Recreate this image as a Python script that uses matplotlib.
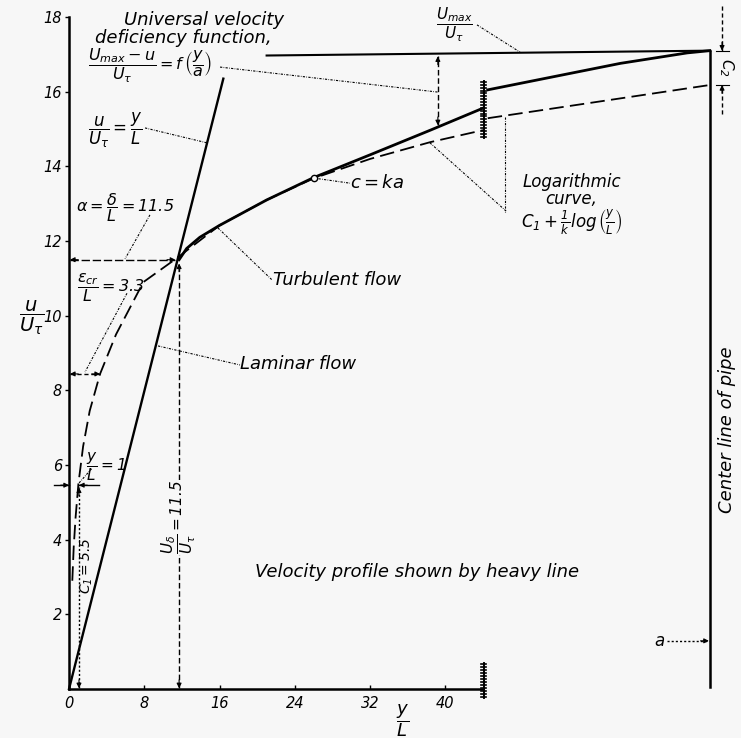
import matplotlib.pyplot as plt
import matplotlib.patheffects as pe

plt.rcParams['font.family'] = 'DejaVu Sans'
plt.rcParams['font.style'] = 'italic'
plt.rcParams['mathtext.fontset'] = 'dejavusans'
plt.rcParams['mathtext.default'] = 'it'

bg = '#f7f7f7'

# --- values: x = y/L, y = u/U_tau ---
lam_x = [0, 16.4]                      # laminar law u/U_tau = y/L
lam_u = [0, 16.35]

turb_x = [11.7, 12.5, 13.9, 16.0, 21.0, 26.0, 32.0, 38.4, 44.0]   # heavy profile
turb_u = [11.5, 11.8, 12.1, 12.42, 13.1, 13.7, 14.31, 14.97, 15.56]

log_x = [0.35, 0.5, 0.7, 1.0, 1.5, 2.2, 3.3, 5.0, 7.9, 11.5, 16.0, 21.0, 26.0, 32.0, 38.4, 44.0]
log_u = [2.9, 3.8, 4.6, 5.5, 6.5, 7.45, 8.44, 9.5, 10.9, 11.55, 12.42, 13.1, 13.68, 14.2, 14.65, 14.97]

# past the break, schematic run out to the pipe centre
core_x = [44.5, 58.6, 65.7, 68.1]
core_u = [16.05, 16.76, 17.04, 17.1]
core_log_x = [44.5, 68.1]
core_log_u = [15.29, 16.18]
umax_x = [21.0, 68.1]
umax_u = [16.97, 17.1]

ck_point = (26.0, 13.7)
xticks = [0, 8, 16, 24, 32, 40]
yticks = [2, 4, 6, 8, 10, 12, 14, 16, 18]

fig = plt.figure(figsize=(7.41, 7.38), dpi=100, facecolor=bg)
ax = fig.add_axes([0, 0, 1, 1], facecolor=bg)
ax.set_xlim(-7.333, 71.413)
ax.set_ylim(-1.3126, 18.457)

# axes as spines through the origin
for s in ['top', 'right']:
    ax.spines[s].set_visible(False)
ax.spines['left'].set_position(('data', 0))
ax.spines['bottom'].set_position(('data', 0))
ax.spines['left'].set_bounds(0, 18)
ax.spines['bottom'].set_bounds(0, 44.0)
ax.spines['left'].set_linewidth(1.8)
ax.spines['bottom'].set_linewidth(1.8)
ax.set_xticks(xticks)
ax.set_yticks(yticks)
ax.tick_params(axis='y', direction='out', length=3, width=1, pad=2, labelsize=10.5)
ax.tick_params(axis='x', direction='in', length=3, width=1, pad=5, labelsize=10.5)
for lab in ax.get_xticklabels() + ax.get_yticklabels():
    lab.set_fontstyle('italic')

# --- curves ---
ax.plot(log_x, log_u, color='k', lw=1.3, ls=(0, (8, 3.5)), zorder=2)
ax.plot(core_log_x, core_log_u, color='k', lw=1.3, ls=(0, (8, 3.5)), zorder=2)
ax.plot(lam_x, lam_u, color='k', lw=1.7, zorder=3)
ax.plot(turb_x, turb_u, color='k', lw=2.0, zorder=3)
ax.plot(core_x, core_u, color='k', lw=2.0, zorder=3)
ax.plot(umax_x, umax_u, color='k', lw=1.5, zorder=3)
ax.plot([68.1, 68.1], [0.05, 17.1], color='k', lw=1.8, zorder=3)
ax.plot(*ck_point, 'o', ms=4.5, mfc=bg, mec='k', mew=1.0, zorder=4)

# break marks
brk = [pe.withTickedStroke(angle=90, spacing=2.0, length=0.9),
       pe.withTickedStroke(angle=-90, spacing=2.0, length=0.6)]
ax.plot([44.1, 44.1], [14.76, 16.3], color='k', lw=1.2, path_effects=brk)
ax.plot([44.1, 44.1], [-0.24, 0.7], color='k', lw=1.2, path_effects=brk)


def head(x, y, dx, dy):
    ax.annotate('', xy=(x, y), xytext=(-dx * 6, -dy * 6), textcoords='offset points',
                arrowprops=dict(arrowstyle='-|>', color='k', lw=0.8, mutation_scale=7,
                                shrinkA=0, shrinkB=0))


def dim(x0, y0, x1, y1, ls=(0, (4, 2)), start=True, end=True):
    ax.plot([x0, x1], [y0, y1], color='k', lw=1.0, ls=ls)
    dx = (x1 > x0) - (x1 < x0)
    dy = (y1 > y0) - (y1 < y0)
    if end:
        head(x1, y1, dx, dy)
    if start:
        head(x0, y0, -dx, -dy)


dim(11.7, 0.02, 11.7, 11.4)                    # U_delta / U_tau
dim(1.06, 0.02, 1.06, 5.4, ls=(0, (1.5, 1.5)))    # C1
dim(0.1, 11.5, 11.3, 11.5, ls=(0, (6, 2)))        # alpha
dim(0.1, 8.44, 3.3, 8.44, ls=(0, (3, 2)))         # eps_cr
dim(-1.6, 5.46, 0, 5.46, ls='-', start=False)     # y/L = 1
dim(3.2, 5.46, 1.06, 5.46, ls='-', start=False)
dim(39.2, 15.1, 39.2, 16.95)                      # deficiency
dim(69.4, 18.3, 69.4, 17.1, ls=(0, (3, 2)), start=False)   # C2
dim(69.4, 15.4, 69.4, 16.18, ls=(0, (3, 2)), start=False)
ax.plot([68.8, 70.1], [17.1, 17.1], color='k', lw=0.8)
ax.plot([68.8, 70.1], [16.18, 16.18], color='k', lw=0.8)
dim(63.6, 1.29, 68.0, 1.29, ls=(0, (1.5, 1.5)), start=False)  # a

# leader lines
leaders = [
    ([16.05, 39.2], [16.66, 15.99]),
    ([8.08, 14.67], [15.03, 14.63]),
    ([8.6, 5.95], [12.7, 11.52]),
    ([6.16, 1.7], [10.6, 8.49]),
    ([9.46, 18.17], [9.19, 8.68]),
    ([15.83, 21.57], [12.35, 10.96]),
    ([25.93, 29.86], [13.69, 13.55]),
    ([38.36, 46.55], [14.63, 12.78]),
    ([46.33, 46.33], [15.32, 12.78]),
    ([43.36, 47.93], [17.79, 17.06]),
    ([2.4, 1.0], [5.9, 5.5]),
]
for lx, ly in leaders:
    ax.plot(lx, ly, color='k', lw=0.8, ls=(0, (2, 1.2, 0.6, 1.2)))

# --- text ---
fs = 13
ax.text(14.35, 17.92, 'Universal velocity', fontsize=fs, ha='center', va='center')
ax.text(12.1, 17.44, 'deficiency function,', fontsize=fs, ha='center', va='center')
ax.text(8.6, 16.69, r'$\dfrac{U_{max}-u}{U_\tau}=f\,\left(\dfrac{y}{a}\right)$', fontsize=11.5,
        ha='center', va='center')
ax.text(4.9, 14.97, r'$\dfrac{u}{U_\tau}=\dfrac{y}{L}$', fontsize=12, ha='center', va='center')
ax.text(6.0, 12.91, r'$\alpha=\dfrac{\delta}{L}=11.5$', fontsize=11.5, ha='center', va='center')
ax.text(4.5, 10.75, r'$\dfrac{\epsilon_{cr}}{L}=3.3$', fontsize=11.5, ha='center', va='center')
ax.text(21.7, 10.96, 'Turbulent flow', fontsize=fs, ha='left', va='center')
ax.text(18.2, 8.7, 'Laminar flow', fontsize=fs, ha='left', va='center')
ax.text(29.9, 13.55, r'$c=ka$', fontsize=fs, ha='left', va='center')
ax.text(53.4, 12.97, 'Logarithmic\ncurve,\n' + r'$C_1+\frac{1}{k}log\,\left(\frac{y}{L}\right)$',
        fontsize=12, ha='center', va='center', multialignment='center', linespacing=0.95)
ax.text(41.0, 17.8, r'$\dfrac{U_{max}}{U_\tau}$', fontsize=11, ha='center', va='center')
ax.text(69.9, 16.65, r'$C_2$', fontsize=11, rotation=-90, ha='center', va='center',
        bbox=dict(fc=bg, ec='none', pad=0.5))
ax.text(69.9, 6.94, 'Center line of pipe', fontsize=fs, rotation=90, ha='center', va='center')
ax.text(63.3, 1.29, 'a', fontsize=12, ha='right', va='center')
ax.text(37.0, 3.13, 'Velocity profile shown by heavy line', fontsize=fs, ha='center', va='center')
ax.text(3.9, 5.95, r'$\dfrac{y}{L}=1$', fontsize=11, ha='center', va='center')
ax.text(1.9, 3.3, r'$C_1=5.5$', fontsize=10, rotation=90, ha='center', va='center')
ax.text(11.65, 4.6, r'$\dfrac{U_\delta}{U_\tau}=11.5$', fontsize=11, rotation=90,
        ha='center', va='center', bbox=dict(fc=bg, ec='none', pad=0.5))
ax.text(-3.95, 9.94, r'$\dfrac{u}{U_\tau}$', fontsize=14, ha='center', va='center')
ax.text(35.5, -0.86, r'$\dfrac{y}{L}$', fontsize=13, ha='center', va='center')

fig.savefig('out.png', dpi=100, facecolor=bg)
